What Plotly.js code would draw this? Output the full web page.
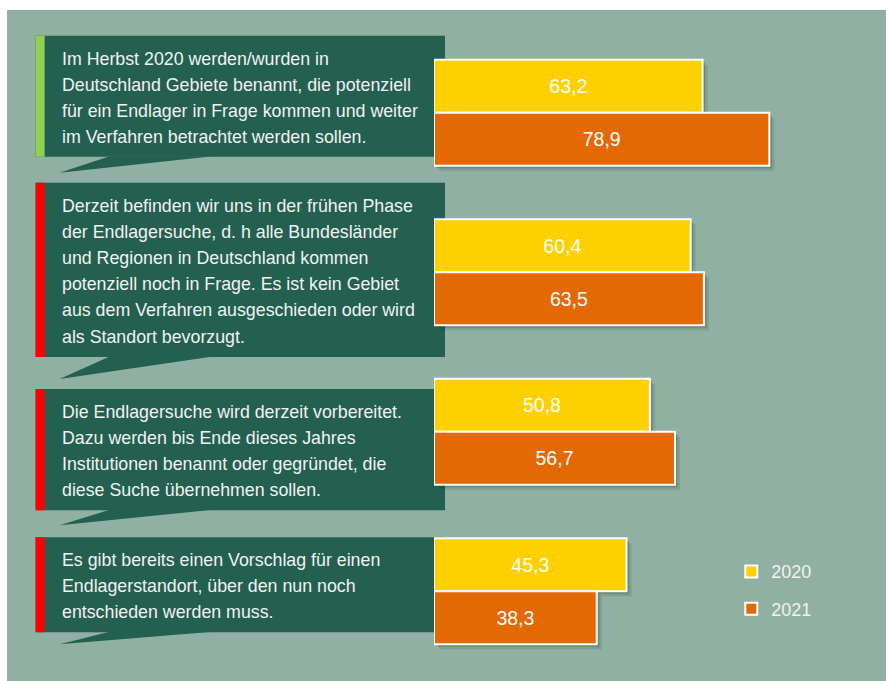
<!DOCTYPE html>
<html>
<head>
<meta charset="utf-8">
<script src="https://cdn.plot.ly/plotly-3.0.1.min.js"></script>
<style>
  html, body { margin: 0; padding: 0; background: #ffffff; width: 886px; height: 681px; overflow: hidden; }
  #chart { position: absolute; left: 7px; top: 10px; width: 879px; height: 671px; }
</style>
</head>
<body>
<div id="chart"></div>
<script>
// ---- data ----
const categories = [
  'Gebiete benannt (Herbst 2020)',
  'Frühe Phase der Endlagersuche',
  'Endlagersuche wird vorbereitet',
  'Vorschlag für Endlagerstandort'
];
const seriesNames = ['2020', '2021'];
const values2020 = [63.2, 60.4, 50.8, 45.3];
const values2021 = [78.9, 63.5, 56.7, 38.3];
const statementLines = [
  ['Im Herbst 2020 werden/wurden in',
   'Deutschland Gebiete benannt, die potenziell',
   'für ein Endlager in Frage kommen und weiter',
   'im Verfahren betrachtet werden sollen.'],
  ['Derzeit befinden wir uns in der frühen Phase',
   'der Endlagersuche, d. h alle Bundesländer',
   'und Regionen in Deutschland kommen',
   'potenziell noch in Frage. Es ist kein Gebiet',
   'aus dem Verfahren ausgeschieden oder wird',
   'als Standort bevorzugt.'],
  ['Die Endlagersuche wird derzeit vorbereitet.',
   'Dazu werden bis Ende dieses Jahres',
   'Institutionen benannt oder gegründet, die',
   'diese Suche übernehmen sollen.'],
  ['Es gibt bereits einen Vorschlag für einen',
   'Endlagerstandort, über den nun noch',
   'entschieden werden muss.']
];

// ---- layout geometry (pixels of the page) ----
const W = 879, H = 671, offX = 7, offY = 10;
const M = { l: 427, r: 27.4, t: 23.35, b: 10.4 };
const plotW = W - M.l - M.r, plotH = H - M.t - M.b;
const xRange = [0, 100];
const bargap = 0.335;
const px = a => (a - offX - M.l) / plotW;
const py = a => 1 - (a - offY - M.t) / plotH;

const boxLeft = 36, boxRight = 445, stripeW = 9;
const boxes = [
  { top: 36,  bottom: 157, tip: 173, stripe: '#92D050' },
  { top: 183, bottom: 357, tip: 379, stripe: '#FF0000' },
  { top: 389, bottom: 510, tip: 525, stripe: '#FF0000' },
  { top: 537, bottom: 632, tip: 644, stripe: '#FF0000' }
];
const boxColor = '#236050';
const textColor = '#F2F2F2';
const lineGap = 26;
const fontFam = 'Liberation Sans, Arial, sans-serif';

const shapes = [];
const annotations = [];
boxes.forEach((b, i) => {
  shapes.push({ type: 'rect', xref: 'paper', yref: 'paper', layer: 'below',
    x0: px(boxLeft), x1: px(boxRight), y0: py(b.bottom), y1: py(b.top),
    fillcolor: boxColor, line: { width: 0 } });
  shapes.push({ type: 'path', xref: 'paper', yref: 'paper', layer: 'below',
    path: `M ${px(110)} ${py(b.bottom - 0.5)} L ${px(213)} ${py(b.bottom - 0.5)} L ${px(60)} ${py(b.tip)} Z`,
    fillcolor: boxColor, line: { width: 0 } });
  shapes.push({ type: 'rect', xref: 'paper', yref: 'paper', layer: 'below',
    x0: px(boxLeft), x1: px(boxLeft + stripeW), y0: py(b.bottom), y1: py(b.top),
    fillcolor: b.stripe, line: { width: 0 } });
  const lines = statementLines[i];
  const c = (b.top + b.bottom) / 2 + 1.5;
  lines.forEach((ln, k) => {
    annotations.push({ xref: 'paper', yref: 'paper', x: px(60), y: py(c + (k - (lines.length - 1) / 2) * lineGap),
      xanchor: 'left', yanchor: 'middle', showarrow: false, text: ln,
      font: { family: fontFam, size: 17.8, color: textColor } });
  });
});

// soft drop shadows under the bars (derived from the data values)
const unitPx = plotW / (xRange[1] - xRange[0]);
const catPx = plotH / categories.length;
const shX = 2.5 / unitPx, shY = 2.5 / catPx;
const barW = (1 - bargap) / 2;
[values2020, values2021].forEach((vals, s) => {
  vals.forEach((v, i) => {
    const y0 = i - barW + s * barW;
    [[1.0, 0.22], [2.0, 0.12]].forEach(([k, a]) => {
      shapes.push({ type: 'rect', xref: 'x', yref: 'y', layer: 'below',
        x0: shX * k, x1: v + shX * k, y0: y0 + shY * k, y1: y0 + barW + shY * k,
        fillcolor: `rgba(20,45,35,${a})`, line: { width: 0 } });
    });
  });
});

const fmt = v => v.toFixed(1).replace('.', ',');

const traces = [
  { type: 'bar', orientation: 'h', name: seriesNames[0], y: categories, x: values2020,
    legendgroup: 'a', text: values2020.map(fmt), textposition: 'inside', insidetextanchor: 'middle',
    textfont: { family: fontFam, size: 19.5, color: '#FFFFFF' },
    marker: { color: '#FED000', line: { color: '#FFFFFF', width: 2 } }, hoverinfo: 'skip' },
  { type: 'bar', orientation: 'h', name: seriesNames[1], y: categories, x: values2021,
    legendgroup: 'b', text: values2021.map(fmt), textposition: 'inside', insidetextanchor: 'middle',
    textfont: { family: fontFam, size: 19.5, color: '#FFFFFF' },
    marker: { color: '#E46905', line: { color: '#FFFFFF', width: 2 } }, hoverinfo: 'skip' }
];

const layout = {
  width: W, height: H,
  margin: M,
  paper_bgcolor: '#8FB0A3', plot_bgcolor: 'rgba(0,0,0,0)',
  barmode: 'group', bargap: bargap, bargroupgap: 0,
  separators: ',.',
  xaxis: { range: xRange, visible: false, showgrid: false, zeroline: false, fixedrange: true },
  yaxis: { type: 'category', categoryorder: 'array', categoryarray: categories, autorange: 'reversed',
    visible: false, showgrid: false, zeroline: false, fixedrange: true },
  showlegend: true,
  legend: { x: px(731), y: py(553), xanchor: 'left', yanchor: 'top', bgcolor: 'rgba(0,0,0,0)',
    traceorder: 'grouped', tracegroupgap: 11,
    font: { family: fontFam, size: 18, color: '#F2F2F2' } },
  shapes: shapes,
  annotations: annotations,
  font: { family: fontFam }
};

Plotly.newPlot('chart', traces, layout, { displayModeBar: false, staticPlot: true });
</script>
</body>
</html>
